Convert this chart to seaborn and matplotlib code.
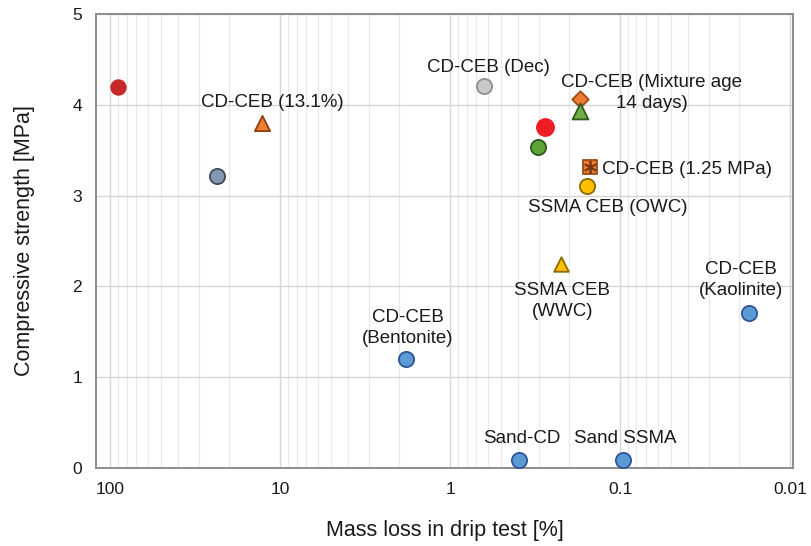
import matplotlib
matplotlib.use("Agg")
import matplotlib.pyplot as plt
import seaborn as sns
import pandas as pd
from matplotlib.ticker import LogLocator, FixedLocator, NullFormatter

# Specimen groups: mass loss in drip test (%) and compressive strength (MPa)
names = ["red_a", "slate", "tri_131", "dec", "mix14", "green_tri", "red_b",
         "green_c", "mpa125", "owc", "wwc", "kaolinite", "bentonite",
         "sand_cd", "sand_ssma"]
mass_loss = [89.7, 23.5, 12.7, 0.63, 0.172, 0.171, 0.275,
             0.303, 0.150, 0.157, 0.221, 0.0175, 1.82,
             0.391, 0.0965]
strength = [4.20, 3.22, 3.80, 4.21, 4.06, 3.93, 3.75,
            3.54, 3.31, 3.10, 2.25, 1.71, 1.20,
            0.09, 0.09]
fills = ["#C62828", "#8497B0", "#ED7D31", "#C9C9C9", "#ED7D31", "#70AD47", "#EE1C25",
         "#5FA238", "#ED7D31", "#FFC000", "#FFC000", "#5B9BD5", "#5B9BD5",
         "#5B9BD5", "#5B9BD5"]
edges = ["#C62828", "#3F4A5C", "#8B3F0E", "#8F8F8F", "#9A4A14", "#2E5A1C", "#EE1C25",
         "#2E5A1C", "#9A4A14", "#8B6A00", "#8B6A00", "#2F5597", "#2F5597",
         "#2F5597", "#2F5597"]
markers = ["o", "o", "^", "o", "D", "^", "o",
           "o", "s", "o", "^", "o", "o",
           "o", "o"]
sizes = [110, 120, 120, 120, 70, 130, 150,
         120, 90, 120, 110, 120, 120,
         120, 120]

labels = ["CD-CEB (13.1%)", "CD-CEB (Dec)", "CD-CEB (Mixture age\n14 days)",
          "CD-CEB (1.25 MPa)", "SSMA CEB (OWC)", "SSMA CEB\n(WWC)",
          "CD-CEB\n(Kaolinite)", "CD-CEB\n(Bentonite)", "Sand-CD", "Sand SSMA"]
label_of = ["tri_131", "dec", "mix14", "mpa125", "owc", "wwc",
            "kaolinite", "bentonite", "sand_cd", "sand_ssma"]

df = pd.DataFrame({"name": names, "mass_loss": mass_loss, "strength": strength})

sns.set_style("white")
plt.rcParams["font.family"] = ["Liberation Sans", "DejaVu Sans"]

fig = plt.figure(figsize=(8.11, 5.46), dpi=100)
ax = fig.add_axes([0.1184, 0.1429, 0.8594, 0.8315])

for i, row in df.iterrows():
    sns.scatterplot(data=df.iloc[[i]], x="mass_loss", y="strength", ax=ax,
                    color=fills[i], edgecolor=edges[i], marker=markers[i],
                    s=sizes[i], linewidth=1.3, zorder=3, legend=False)

# asterisk overlay on the 1.25 MPa square
sel = df[df["name"] == "mpa125"]
sns.scatterplot(data=sel, x="mass_loss", y="strength", ax=ax, marker=(6, 2, 0),
                color="#7B3A10", edgecolor="#7B3A10", s=70, linewidth=1.3,
                zorder=4, legend=False)

ax.set_xscale("log")
ax.set_xlim(121, 0.0096)
ax.set_ylim(0, 5)

ax.xaxis.set_major_locator(FixedLocator([100, 10, 1, 0.1, 0.01]))
ax.xaxis.set_minor_locator(LogLocator(base=10, subs=range(2, 10), numticks=20))
ax.xaxis.set_minor_formatter(NullFormatter())
ax.set_xticklabels(["100", "10", "1", "0.1", "0.01"])
ax.set_yticks([0, 1, 2, 3, 4, 5])

ax.grid(True, which="major", color="#D6D6D6", linewidth=1.0, zorder=0)
ax.grid(True, which="minor", axis="x", color="#E8E8E8", linewidth=0.8, zorder=0)
ax.set_axisbelow(True)

for side in ["left", "bottom", "top", "right"]:
    ax.spines[side].set_visible(True)
    ax.spines[side].set_color("#8C8C8C")
    ax.spines[side].set_linewidth(1.4)

ax.tick_params(axis="y", which="both", length=0, labelsize=12.5, colors="#1A1A1A", pad=10)
ax.tick_params(axis="x", which="both", direction="in", length=4, width=0.8,
               color="#9A9A9A", labelsize=12.5, labelcolor="#1A1A1A", pad=10)

ax.set_xlabel("Mass loss in drip test [%]", fontsize=15.5, labelpad=17, color="#1A1A1A")
ax.set_ylabel("Compressive strength [MPa]", fontsize=15.5, labelpad=27, color="#1A1A1A")

offsets = {
    "tri_131": (10, 20, "center"),
    "dec": (4, 18, "center"),
    "mix14": (72, 6, "center"),
    "mpa125": (12, -2, "left"),
    "owc": (21, -21, "center"),
    "wwc": (1, -37, "center"),
    "kaolinite": (-8, 33, "center"),
    "bentonite": (2, 31, "center"),
    "sand_cd": (2, 21, "center"),
    "sand_ssma": (3, 21, "center"),
}
for text, key in zip(labels, label_of):
    r = df[df["name"] == key].iloc[0]
    dx, dy, ha = offsets[key]
    ax.annotate(text, xy=(r["mass_loss"], r["strength"]), xytext=(dx, dy),
                textcoords="offset pixels", ha=ha, va="center",
                fontsize=13.5, color="#1A1A1A", linespacing=1.3, zorder=5)

fig.savefig("out.png", dpi=100)
